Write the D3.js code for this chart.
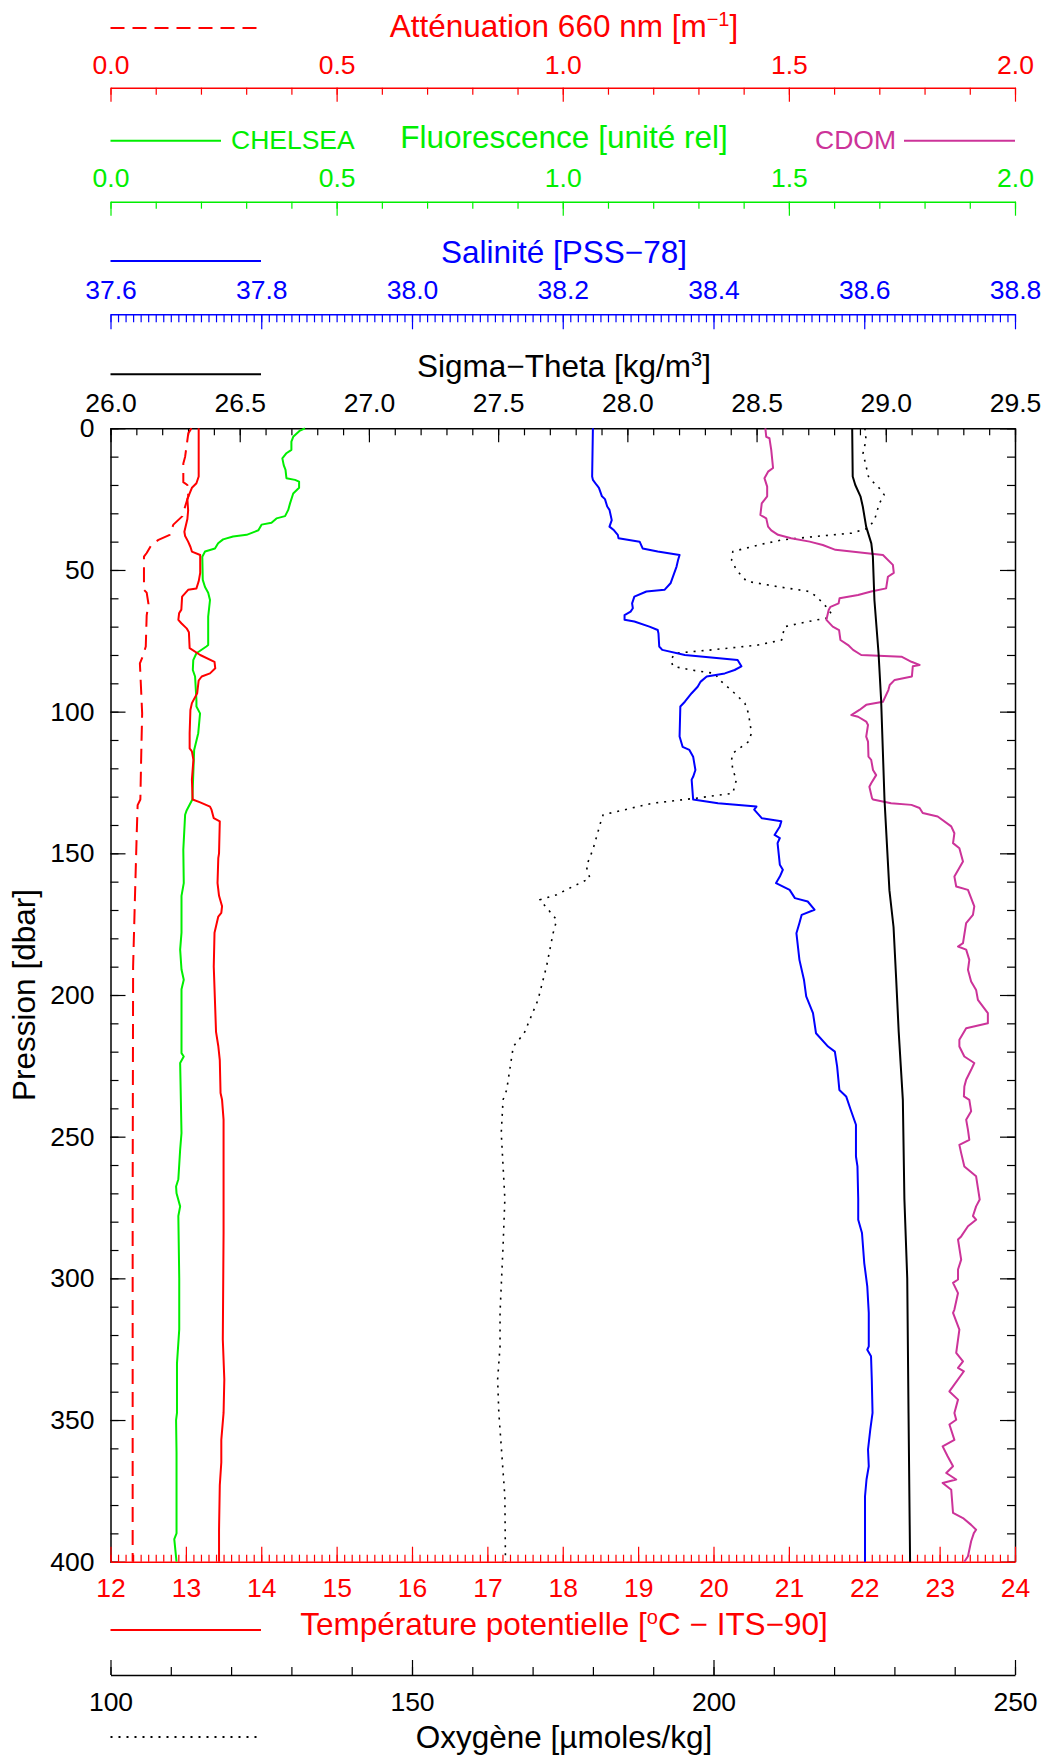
<!DOCTYPE html>
<html><head><meta charset="utf-8">
<script src="https://cdn.jsdelivr.net/npm/d3@7"></script>
<style>body{margin:0;background:#fff} text{font-family:"Liberation Sans",Arial,Helvetica,sans-serif}</style>
</head><body><svg id="c" width="1050" height="1758"></svg>
<script>
// ---------- data: [pressure (dbar), value] ----------
const attenuation = [[0,0.179],[1.8,0.172],[10,0.165],[12.4,0.161],[19,0.161],[20,0.170],[24,0.172],[27.6,0.165],[31,0.159],[34,0.139],[37.6,0.131],[39.4,0.106],[41,0.091],[44,0.080],[45.3,0.074],[57,0.074],[58,0.080],[62,0.084],[66,0.080],[77,0.078],[80.6,0.071],[83,0.065],[90,0.067],[100.6,0.070],[115,0.068],[131,0.066],[133,0.060],[143,0.058],[166,0.054],[190,0.050],[272,0.049],[400,0.049]];
const fluorescence = [[0,0.430],[0.8,0.419],[3,0.404],[4.7,0.400],[7.6,0.400],[8.8,0.389],[10.6,0.380],[13,0.383],[14.7,0.387],[17.6,0.389],[18.2,0.408],[18.8,0.417],[21,0.417],[23,0.404],[26.5,0.397],[28.8,0.393],[31,0.386],[31.8,0.367],[33.3,0.356],[34,0.334],[36,0.327],[37.6,0.301],[38.2,0.271],[39.2,0.249],[40.6,0.238],[42.4,0.231],[43.5,0.209],[45.3,0.203],[53.5,0.204],[56,0.209],[58,0.216],[60.6,0.220],[66.5,0.216],[76.5,0.216],[77,0.212],[79.4,0.190],[81.8,0.183],[85.3,0.182],[87.6,0.187],[96,0.190],[98.2,0.190],[100.6,0.198],[107.6,0.194],[113.5,0.185],[131,0.181],[135,0.168],[136.4,0.165],[148.7,0.161],[160.5,0.162],[165,0.157],[178,0.157],[184,0.154],[191,0.157],[194.6,0.162],[198,0.157],[220.5,0.157],[221.7,0.162],[224,0.154],[248.7,0.157],[254.6,0.154],[265,0.150],[267.6,0.145],[270,0.146],[274.6,0.154],[278,0.150],[300,0.152],[318,0.152],[330,0.147],[347.5,0.147],[350,0.145],[361.6,0.146],[381.6,0.146],[390,0.146],[392,0.141],[400,0.146]];
const cdom = [[0,1.448],[3,1.450],[3.5,1.457],[7.6,1.461],[14,1.465],[15.3,1.454],[17.6,1.446],[20.6,1.452],[24,1.452],[26.5,1.440],[30.6,1.437],[31.8,1.450],[34.7,1.454],[36,1.461],[37.6,1.476],[38.8,1.505],[40,1.546],[41.2,1.575],[42.9,1.603],[44.7,1.708],[48.2,1.730],[51,1.732],[52.4,1.719],[56.5,1.715],[57.6,1.682],[58.8,1.653],[60,1.612],[61.8,1.610],[63,1.592],[64.1,1.588],[67.6,1.583],[70,1.597],[71.2,1.611],[74.7,1.614],[76.5,1.631],[78.2,1.642],[80,1.660],[80.6,1.749],[82.4,1.771],[83.5,1.789],[84,1.774],[87.6,1.772],[88.8,1.734],[90.6,1.723],[92.4,1.720],[96.5,1.708],[97.6,1.671],[99.4,1.656],[101.2,1.638],[101.8,1.653],[103.5,1.671],[104.7,1.675],[108.8,1.671],[110.6,1.675],[115.9,1.676],[117,1.682],[120.6,1.686],[122.4,1.693],[125.3,1.682],[126.5,1.678],[130.6,1.684],[131,1.686],[132.3,1.726],[132.9,1.771],[134,1.789],[135.8,1.796],[137,1.829],[140.5,1.859],[142.9,1.866],[146.4,1.863],[148.2,1.877],[152.9,1.885],[158.2,1.866],[161.7,1.870],[162.9,1.896],[168.7,1.910],[171.7,1.907],[174.6,1.892],[181.7,1.885],[182.9,1.874],[184,1.892],[187.6,1.899],[191.1,1.896],[195.2,1.903],[198.2,1.914],[201.7,1.918],[206.4,1.940],[210,1.940],[211.7,1.892],[215.8,1.877],[218.2,1.877],[221.7,1.888],[224,1.910],[226.4,1.903],[229.9,1.892],[232.3,1.888],[235.8,1.887],[237,1.899],[241,1.903],[244,1.892],[247.6,1.896],[251.1,1.899],[252.9,1.877],[255.8,1.881],[260.5,1.888],[264,1.914],[272.2,1.922],[274.6,1.914],[278,1.907],[279.3,1.914],[281.6,1.896],[285.2,1.881],[286.3,1.874],[293.4,1.881],[296.9,1.874],[300.4,1.874],[301.6,1.863],[305.2,1.874],[311,1.866],[312.2,1.863],[318.1,1.877],[326.3,1.870],[329.3,1.885],[331.6,1.874],[332.8,1.887],[339.9,1.855],[342.8,1.874],[347.5,1.866],[349.9,1.870],[351.6,1.855],[357,1.866],[359.3,1.840],[362.8,1.851],[366.3,1.863],[368.7,1.848],[371,1.870],[372.2,1.840],[374.6,1.859],[382.8,1.863],[384.6,1.885],[387,1.903],[388.7,1.914],[389.9,1.909],[392.8,1.903],[398.1,1.896],[400,1.888]];
const salinity = [[0,38.240],[17,38.239],[18.2,38.240],[20,38.245],[21,38.248],[24,38.252],[25,38.256],[27.6,38.259],[28.8,38.262],[30,38.263],[32.4,38.265],[34.7,38.262],[36,38.268],[37.6,38.273],[38.8,38.274],[40,38.302],[42.4,38.306],[43.5,38.326],[44.7,38.355],[46.5,38.353],[48.8,38.351],[54.7,38.343],[57,38.335],[57.6,38.311],[59.4,38.295],[61.8,38.292],[63.5,38.293],[64.7,38.290],[65.9,38.282],[67.6,38.282],[68.2,38.295],[70,38.315],[71.2,38.326],[72.4,38.327],[77,38.328],[78.2,38.332],[80,38.362],[81.8,38.432],[84,38.437],[85.3,38.428],[86.5,38.415],[87.6,38.391],[89.4,38.383],[91.2,38.379],[93.5,38.371],[96.5,38.362],[98.2,38.356],[108.8,38.355],[112.4,38.359],[113.5,38.368],[115.9,38.373],[120.6,38.376],[123,38.373],[124,38.371],[131,38.373],[132.3,38.406],[133.5,38.457],[134.6,38.454],[137.6,38.464],[138.7,38.490],[140.5,38.488],[143.5,38.481],[144.6,38.488],[146.4,38.485],[154,38.488],[155.8,38.492],[158.2,38.488],[160.5,38.483],[162.9,38.501],[165.8,38.508],[167,38.525],[169.9,38.534],[171.7,38.517],[174.6,38.514],[178.2,38.510],[187.6,38.514],[194.6,38.520],[200.5,38.523],[206.4,38.532],[213.5,38.536],[218.2,38.552],[220,38.561],[225.2,38.564],[233.5,38.567],[235.8,38.576],[240.5,38.582],[245.8,38.589],[257,38.589],[260.5,38.591],[272,38.592],[279.3,38.592],[284,38.597],[294.6,38.600],[302.8,38.604],[312.2,38.606],[324,38.606],[325.2,38.604],[327.5,38.609],[335.7,38.610],[347.5,38.611],[353.4,38.608],[360.4,38.605],[366.3,38.606],[371,38.603],[377,38.601],[400,38.601]];
const sigmaTheta = [[0,28.870],[17,28.872],[20,28.882],[24,28.902],[27.6,28.911],[34.7,28.924],[40.6,28.944],[45.3,28.950],[60.6,28.956],[79.4,28.972],[96,28.982],[131,28.995],[163,29.014],[176,29.030],[194,29.040],[213,29.050],[225,29.058],[237,29.066],[272,29.072],[300,29.083],[347.5,29.088],[400,29.094]];
const temperature = [[0,13.17],[17,13.17],[19.4,13.14],[21,13.08],[23,13.05],[25,13.02],[29,13.03],[32,13.02],[36.5,12.98],[38,12.99],[40,13.03],[41.8,13.06],[43.5,13.08],[44.7,13.19],[51,13.19],[54,13.17],[56.5,13.14],[57,13.03],[59.4,12.95],[64,12.94],[65.3,12.91],[67.6,12.90],[68.8,12.94],[70.6,13.01],[72,13.04],[77.6,13.05],[80,13.19],[82.4,13.38],[84.7,13.39],[86.5,13.32],[87.6,13.21],[89,13.17],[93.5,13.15],[97,13.08],[99.4,13.06],[107.6,13.05],[113,13.05],[114,13.08],[117,13.10],[124,13.08],[131,13.09],[132,13.19],[133.5,13.32],[134.6,13.34],[137.6,13.37],[138.7,13.45],[150,13.44],[151.7,13.43],[160.5,13.42],[165,13.44],[168.7,13.48],[171,13.47],[172.3,13.43],[178,13.38],[190,13.37],[213,13.40],[218,13.43],[223,13.45],[234.6,13.46],[237,13.48],[244,13.50],[284,13.50],[321.6,13.49],[335.7,13.51],[347.5,13.50],[357,13.47],[365,13.47],[373,13.45],[388.7,13.44],[400,13.44]];
const oxygen = [[0,225.1],[4,225.3],[8.8,224.8],[17,225.7],[18.8,226.4],[21.8,227.8],[23.5,228.3],[26.5,227.5],[32.4,226.7],[35.3,225.6],[37,222.9],[38.2,216.8],[39.4,211.3],[41.2,207.4],[43.5,203.2],[46.5,203.0],[50,203.8],[54,205.5],[55.9,210.7],[57.6,215.9],[59.4,217.1],[63,218.7],[65.3,219.5],[67,218.7],[68.2,215.7],[70,211.8],[74.7,211.3],[76.5,207.4],[78.2,199.7],[79.4,193.6],[81.8,192.9],[84,193.3],[85.3,196.3],[86.5,200.2],[88.8,201.0],[93.5,203.5],[97,205.2],[100.6,205.8],[107.6,206.3],[110.6,205.8],[114.7,203.2],[117,203.0],[120.6,203.2],[124,203.8],[128.8,203.2],[130.6,196.9],[132.3,190.0],[133.5,187.5],[136.4,181.7],[138.2,181.4],[148.7,180.0],[154.6,178.9],[158.8,179.5],[161.7,176.7],[164.6,174.0],[166.4,171.2],[169.9,172.6],[173.5,174.0],[178.2,173.4],[190,172.3],[201.7,170.9],[213.5,168.6],[218.2,166.8],[233.5,165.7],[237,165.1],[248.7,164.8],[272,165.4],[288.7,165.1],[312,164.6],[324,164.6],[335.7,164.2],[347.5,164.4],[359.3,164.8],[377,165.4],[400,165.5]];

// ---------- tick values ----------
const pressureMajor = [0,50,100,150,200,250,300,350,400];
const pressureMinor = d3.range(0,401,10);
const optMajor = [0,0.5,1.0,1.5,2.0];
const optMinor = d3.range(0,2.001,0.1);
const salMajor = [37.6,37.8,38.0,38.2,38.4,38.6,38.8];
const salMinor = d3.range(37.6,38.8001,0.01);
const sigMajor = [26.0,26.5,27.0,27.5,28.0,28.5,29.0,29.5];
const sigMinor = d3.range(26,29.5001,0.1);
const temMajor = d3.range(12,24.001,1);
const temMinor = d3.range(12,24.001,0.1);
const oxMajor = [100,150,200,250];
const oxMinor = d3.range(100,250.1,10);

// ---------- layout ----------
const svg = d3.select("#c");
const L=110.5, R=1015, T=428.3, B=1561.7, CX=564;
const y = d3.scaleLinear().domain([0,400]).range([T,B]);
const xAtt = d3.scaleLinear().domain([0,2]).range([L,R]);
const xFl = d3.scaleLinear().domain([0,2]).range([L,R]);
const xSal = d3.scaleLinear().domain([37.6,38.8]).range([L,R]);
const xSig = d3.scaleLinear().domain([26,29.5]).range([L,R]);
const xTem = d3.scaleLinear().domain([12,24]).range([L,R]);
const xOx = d3.scaleLinear().domain([100,250]).range([L,R]);

const TICKFS = 26.5, TITLEFS = 31.5;

function makeAxis(gen, scale, tr, major, minor, majLen, minLen, color, fmt, labelAttr, labelVal){
  const g = svg.append("g").attr("transform", tr);
  const mi = g.append("g").call(gen(scale).tickValues(minor).tickSize(-minLen).tickSizeOuter(0).tickFormat(""));
  mi.select(".domain").remove();
  mi.selectAll("text").remove();
  const ma = g.append("g").call(gen(scale).tickValues(major).tickSize(-majLen).tickSizeOuter(0).tickFormat(fmt));
  g.selectAll("line").attr("stroke", color).attr("stroke-width", 1.2);
  ma.select(".domain").attr("stroke", color).attr("stroke-width", 1.5);
  ma.selectAll("text").attr("fill", color).style("font-size", TICKFS+"px")
    .style("font-family", '"Liberation Sans",Arial,sans-serif').attr(labelAttr, labelVal);
  if (labelAttr === "y") ma.selectAll("text").attr("dy", 0);
  return ma;
}

// top axes
makeAxis(d3.axisTop, xAtt, "translate(0,87.7)", optMajor, optMinor, 14, 7, "#ff0000", d3.format(".1f"), "y", -14);
makeAxis(d3.axisTop, xFl, "translate(0,201.7)", optMajor, optMinor, 14, 7, "#00ee00", d3.format(".1f"), "y", -15);
makeAxis(d3.axisTop, xSal, "translate(0,314.3)", salMajor, salMinor, 15, 8, "#0000ff", d3.format(".1f"), "y", -15);
makeAxis(d3.axisTop, xSig, `translate(0,${T})`, sigMajor, sigMinor, 14, 7, "#000", d3.format(".1f"), "y", -16);
// plot frame sides
makeAxis(d3.axisLeft, y, `translate(${L},0)`, pressureMajor, pressureMinor, 15, 8, "#000", d3.format("d"), "x", -16);
const ra = makeAxis(d3.axisRight, y, `translate(${R},0)`, pressureMajor, pressureMinor, 15, 8, "#000", "", "x", 0);
ra.selectAll("text").remove();
// bottom axes
makeAxis(d3.axisBottom, xTem, `translate(0,${B})`, temMajor, temMinor, 15, 7, "#ff0000", d3.format("d"), "y", 35.5);
makeAxis(d3.axisBottom, xOx, "translate(0,1675)", oxMajor, oxMinor, 15, 8, "#000", d3.format("d"), "y", 36);
svg.selectAll("g").attr("font-size", null).attr("font-family", null);

// ---------- profiles ----------
const plot = svg.append("g");
function prof(data, xs, color, dash, w){
  plot.append("path").datum(data)
    .attr("d", d3.line().x(d => xs(d[1])).y(d => y(d[0])))
    .attr("fill","none").attr("stroke",color).attr("stroke-width",w||2)
    .attr("stroke-dasharray", dash||null).attr("stroke-linejoin","round");
}
prof(oxygen, xOx, "#000", "2,6", 1.6);
prof(attenuation, xAtt, "#ff0000", "15,8", 2);
prof(fluorescence, xFl, "#00ee00", null, 2);
prof(temperature, xTem, "#ff0000", null, 2);
prof(salinity, xSal, "#0000ff", null, 2);
prof(cdom, xFl, "#cc3399", null, 2);
prof(sigmaTheta, xSig, "#000", null, 2);

// ---------- titles & legends ----------
function leg(x1,x2,yy,color,dash){
  svg.append("line").attr("x1",x1).attr("x2",x2).attr("y1",yy).attr("y2",yy)
    .attr("stroke",color).attr("stroke-width",2).attr("stroke-dasharray",dash||null);
}
function title(yy, color, parts, fs){
  const t = svg.append("text").attr("x",CX).attr("y",yy).attr("text-anchor","middle")
    .attr("fill",color).style("font-size",(fs||TITLEFS)+"px");
  parts.forEach(p => {
    const s = t.append("tspan").text(p.t);
    if (p.sup) s.attr("dy",-11).style("font-size","20px");
    if (p.back) s.attr("dy",11);
  });
  return t;
}
leg(110.5,261,28,"#ff0000","14,8");
title(37,"#ff0000",[{t:"Atténuation 660 nm [m"},{t:"−1",sup:1},{t:"]",back:1}]);

leg(110.5,221,140.7,"#00ee00");
svg.append("text").attr("x",231).attr("y",149).attr("fill","#00ee00").style("font-size","26.5px").text("CHELSEA");
title(148,"#00ee00",[{t:"Fluorescence [unité rel]"}]);
svg.append("text").attr("x",896).attr("y",149).attr("text-anchor","end").attr("fill","#cc3399").style("font-size","26.5px").text("CDOM");
leg(904,1015,140.7,"#cc3399");

leg(110.5,261,261,"#0000ff");
title(263,"#0000ff",[{t:"Salinité [PSS−78]"}]);

leg(110.5,261,374.3,"#000");
title(377,"#000",[{t:"Sigma−Theta [kg/m"},{t:"3",sup:1},{t:"]",back:1}]);

leg(110.5,261,1630,"#ff0000");
title(1635,"#ff0000",[{t:"Température potentielle ["},{t:"o",sup:1},{t:"C − ITS−90]",back:1}]);

leg(110.5,261,1737,"#000","2,6");
title(1748,"#000",[{t:"Oxygène [µmoles/kg]"}]);

svg.append("text").attr("transform","translate(35,995) rotate(-90)").attr("text-anchor","middle")
  .style("font-size",TITLEFS+"px").attr("fill","#000").text("Pression [dbar]");
</script></body></html>
